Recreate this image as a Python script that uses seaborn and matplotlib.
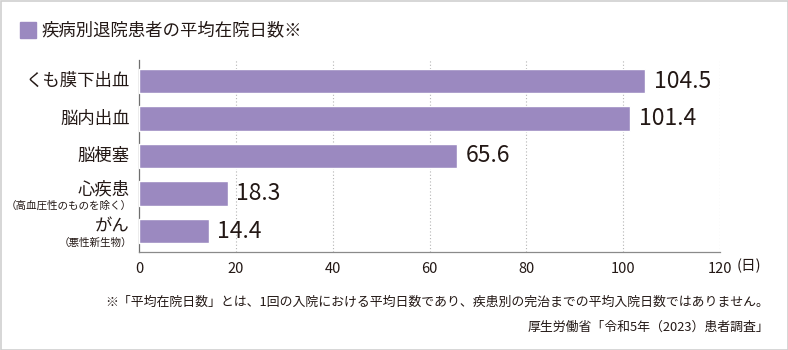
import matplotlib
matplotlib.use("Agg")
import matplotlib.pyplot as plt
import matplotlib.transforms as mtransforms
from matplotlib.patches import Rectangle
import seaborn as sns
import pandas as pd

categories = ["くも膜下出血", "脳内出血", "脳梗塞", "心疾患", "がん"]
sublabels = ["", "", "", "（高血圧性のものを除く）", "（悪性新生物）"]
values = [104.5, 101.4, 65.6, 18.3, 14.4]
value_labels = ["104.5", "101.4", "65.6", "18.3", "14.4"]
xticks = [0, 20, 40, 60, 80, 100, 120]
title = "疾病別退院患者の平均在院日数※"
note1 = "※「平均在院日数」とは、1回の入院における平均日数であり、疾患別の完治までの平均入院日数ではありません。"
note2 = "厚生労働省「令和5年（2023）患者調査」"
unit = "(日)"

sns.set_theme(style="white")
plt.rcParams['font.family'] = ['Noto Sans CJK JP', 'DejaVu Sans']

BAR = "#9b89c0"
TXT = "#231815"

df = pd.DataFrame({"cat": categories, "val": values})

fig = plt.figure(figsize=(7.88, 3.5), dpi=100)
ax = fig.add_axes([139/788, 1-252/350, (720-139)/788, (252-60)/350])
sns.barplot(data=df, x="val", y="cat", orient="h", color=BAR, saturation=1,
            width=0.66, ax=ax, zorder=3)

ax.set_xlim(0, 120)
ax.set_ylim(4.56, -0.56)
ax.set_xticks(xticks)
ax.set_xticklabels([str(t) for t in xticks], fontsize=10.5, color=TXT)
ax.tick_params(axis='x', length=0, pad=7)
ax.set_yticks([])
ax.set_xlabel("")
ax.set_ylabel("")
for t in xticks[1:]:
    ax.axvline(t, color="#b5b5b5", lw=0.8, ls=(0, (1, 2)), zorder=1)
for s in ["top", "right"]:
    ax.spines[s].set_visible(False)
ax.spines["left"].set_color("#6e6e6e")
ax.spines["left"].set_linewidth(0.9)
ax.spines["bottom"].set_color("#8a8a8a")
ax.spines["bottom"].set_linewidth(0.9)

for i, (v, lab) in enumerate(zip(values, value_labels)):
    ax.text(v + 1.8, i, lab, va="center", ha="left", fontsize=16.5, color=TXT)

trans = mtransforms.blended_transform_factory(fig.transFigure, ax.transData)
xr = 130/788
for i, (c, s) in enumerate(zip(categories, sublabels)):
    if s:
        ax.text(xr, i - 0.12, c, transform=trans, ha="right", va="center",
                fontsize=12.5, color=TXT)
        ax.text(xr + 2/788, i + 0.32, s, transform=trans, ha="right", va="center",
                fontsize=7.6, color=TXT)
    else:
        ax.text(xr, i, c, transform=trans, ha="right", va="center",
                fontsize=12.5, color=TXT)

fig.text(737/788, 1-266/350, unit, ha="left", va="center", fontsize=10.5, color=TXT)

fig.patches.append(Rectangle((20/788, 1-38/350), 16/788, 16/350,
                             transform=fig.transFigure, color=BAR))
fig.text(42/788, 1-30/350, title, ha="left", va="center", fontsize=12.5, color=TXT)

fig.text(769/788, 1-302/350, note1, ha="right", va="center", fontsize=9.3, color=TXT)
fig.text(769/788, 1-327/350, note2, ha="right", va="center", fontsize=9.3, color=TXT)

fig.patches.append(Rectangle((0.5/788, 0.5/350), 787/788, 349/350,
                             transform=fig.transFigure, fill=False,
                             edgecolor="#cfcfcf", lw=1.2))

fig.savefig("out.png", dpi=100, facecolor="white")
